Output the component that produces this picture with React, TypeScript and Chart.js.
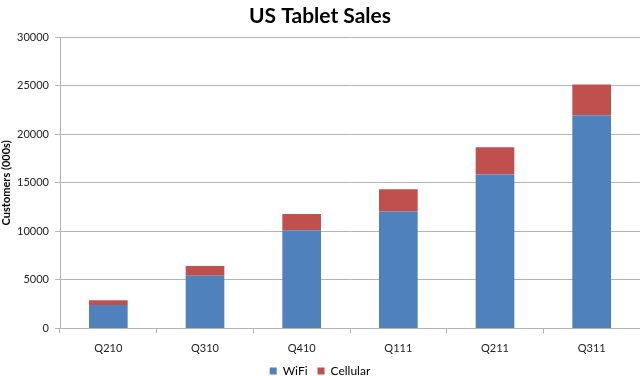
import React, { useEffect, useRef } from "react";
import { Chart, registerables } from "chart.js";

Chart.register(...registerables);

const categories = ["Q210", "Q310", "Q410", "Q111", "Q211", "Q311"];
const wifi = [2430, 5440, 10130, 12060, 15860, 21960];
const cellular = [470, 1000, 1650, 2290, 2810, 3160];
const yTicks = [0, 5000, 10000, 15000, 20000, 25000, 30000];

const FONT = "Lato, 'Open Sans', sans-serif";
const GRID = "#b4b4b4";

export default function App() {
  const ref = useRef<HTMLCanvasElement | null>(null);
  useEffect(() => {
    if (!ref.current) return;
    const chart = new Chart(ref.current, {
      type: "bar",
      data: {
        labels: categories,
        datasets: [
          { label: "WiFi", data: wifi, backgroundColor: "#4F81BD", barPercentage: 0.4, categoryPercentage: 1 },
          { label: "Cellular", data: cellular, backgroundColor: "#C0504D", barPercentage: 0.4, categoryPercentage: 1 },
        ],
      },
      options: {
        animation: false,
        responsive: false,
        maintainAspectRatio: false,
        layout: { padding: { left: 0, right: 0, top: 0, bottom: -11 } },
        plugins: {
          title: {
            display: true,
            text: "US Tablet Sales",
            color: "#000",
            font: { family: FONT, size: 21, weight: "bold" },
            padding: { top: 4, bottom: 8 },
          },
          legend: {
            position: "bottom",
            labels: {
              boxWidth: 7,
              boxHeight: 7,
              padding: 10,
              color: "#000",
              font: { family: FONT, size: 12 },
            },
          },
          tooltip: { enabled: false },
        },
        scales: {
          x: {
            stacked: true,
            grid: { display: true, offset: true, drawOnChartArea: false, tickLength: 5, color: GRID },
            border: { color: GRID },
            ticks: { color: "#222", font: { family: FONT, size: 11 }, padding: 8 },
            afterFit: (s: any) => { s.height = 26.5; },
          },
          y: {
            stacked: true,
            min: 0,
            max: 30000,
            afterBuildTicks: (s: any) => { s.ticks = yTicks.map((v) => ({ value: v })); },
            grid: { color: GRID, tickLength: 5 },
            border: { color: GRID },
            ticks: {
              color: "#222",
              font: { family: FONT, size: 11 },
              padding: 6,
              callback: (v: any) => String(v),
            },
            title: {
              display: true,
              text: "Customers (000s)",
              color: "#000",
              font: { family: FONT, size: 11, weight: "bold" },
              padding: { top: 0, bottom: 2 },
            },
            afterFit: (s: any) => { s.width = 60; },
          },
        },
      },
    });
    return () => chart.destroy();
  }, []);
  return (
    <div style={{ position: "absolute", left: 0, top: 0, width: 640, height: 376, background: "#fff" }}>
      <canvas ref={ref} width={640} height={376} style={{ width: 640, height: 376 }} />
    </div>
  );
}
